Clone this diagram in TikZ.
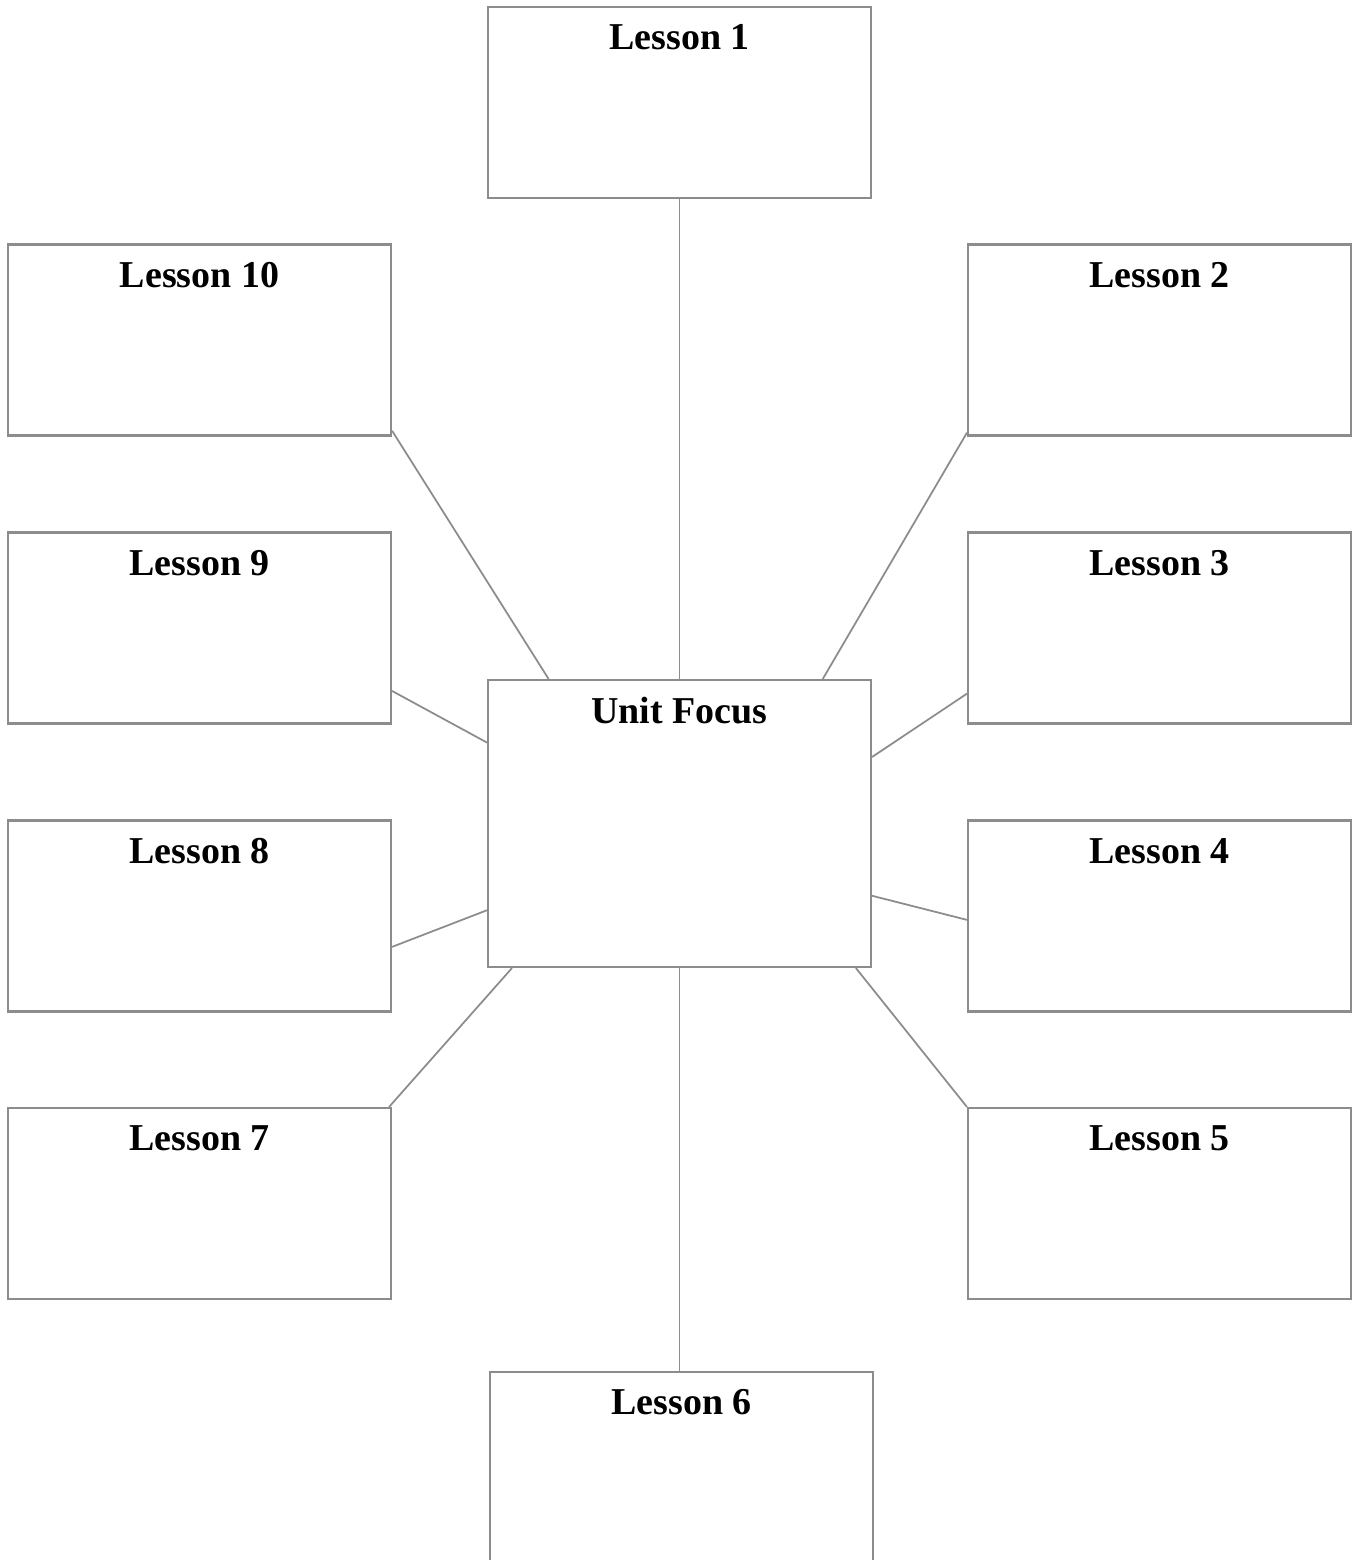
\documentclass[tikz,border=0pt]{standalone}
\usepackage{fontspec}
\setmainfont{Liberation Serif}
\usepackage{tikz}
\usetikzlibrary{positioning,calc}
\usepackage{xcolor}
\definecolor{boxgray}{RGB}{140,140,140}

\tikzset{
  lessonbox/.style={draw=boxgray,line width=0.6pt,minimum width=3.83cm,minimum height=1.91cm,inner sep=0pt},
  focusbox/.style={lessonbox,minimum height=2.87cm},
  boxtitle/.style={anchor=north,font=\bfseries\fontsize{10.8}{13}\selectfont,inner sep=0pt,label distance=-0.18cm},
  link/.style={draw=boxgray,line width=0.5pt}
}

\begin{document}
\begin{tikzpicture}
\useasboundingbox (0,0) rectangle (13.54,-15.60);
% Centre box
\node[focusbox,label={[boxtitle]north:Unit Focus}] (uf) at (6.795,-8.235) {};
% Lessons round it
\node[lessonbox,label={[boxtitle]north:Lesson 1}] (l1) at (6.795,-1.025) {};
\node[lessonbox,label={[boxtitle]north:Lesson 2}] (l2) at (11.595,-3.40) {};
\node[lessonbox,label={[boxtitle]north:Lesson 3}] (l3) at (11.595,-6.28) {};
\node[lessonbox,label={[boxtitle]north:Lesson 4}] (l4) at (11.595,-9.16) {};
\node[lessonbox,label={[boxtitle]north:Lesson 5}] (l5) at (11.595,-12.035) {};
\node[lessonbox,label={[boxtitle]north:Lesson 6}] (l6) at (6.815,-14.675) {};
\node[lessonbox,label={[boxtitle]north:Lesson 7}] (l7) at (1.995,-12.035) {};
\node[lessonbox,label={[boxtitle]north:Lesson 8}] (l8) at (1.995,-9.16) {};
\node[lessonbox,label={[boxtitle]north:Lesson 9}] (l9) at (1.995,-6.28) {};
\node[lessonbox,label={[boxtitle]north:Lesson 10}] (l10) at (1.995,-3.40) {};
% Spokes
\draw[link] (l1) -- (uf);
\draw[link] ($(l2.north west)!0.98!(l2.south west)$) -- ($(uf.north west)!0.872!(uf.north east)$);
\draw[link] ($(l3.north west)!0.84!(l3.south west)$) -- ($(uf.north east)!0.27!(uf.south east)$);
\draw[link] ($(l4.north west)!0.52!(l4.south west)$) -- ($(uf.north east)!0.75!(uf.south east)$);
\draw[link] (l5.north west) -- ($(uf.south west)!0.958!(uf.south east)$);
\draw[link] (l6.north -| uf.south) -- (uf.south);
\draw[link] ($(l7.north east)+(-0.03,0)$) -- ($(uf.south west)!0.065!(uf.south east)$);
\draw[link] ($(l8.north east)!0.66!(l8.south east)$) -- ($(uf.north west)!0.80!(uf.south west)$);
\draw[link] ($(l9.north east)!0.826!(l9.south east)$) -- ($(uf.north west)!0.22!(uf.south west)$);
\draw[link] ($(l10.north east)!0.97!(l10.south east)$) -- ($(uf.north west)!0.16!(uf.north east)$);
\end{tikzpicture}
\end{document}
